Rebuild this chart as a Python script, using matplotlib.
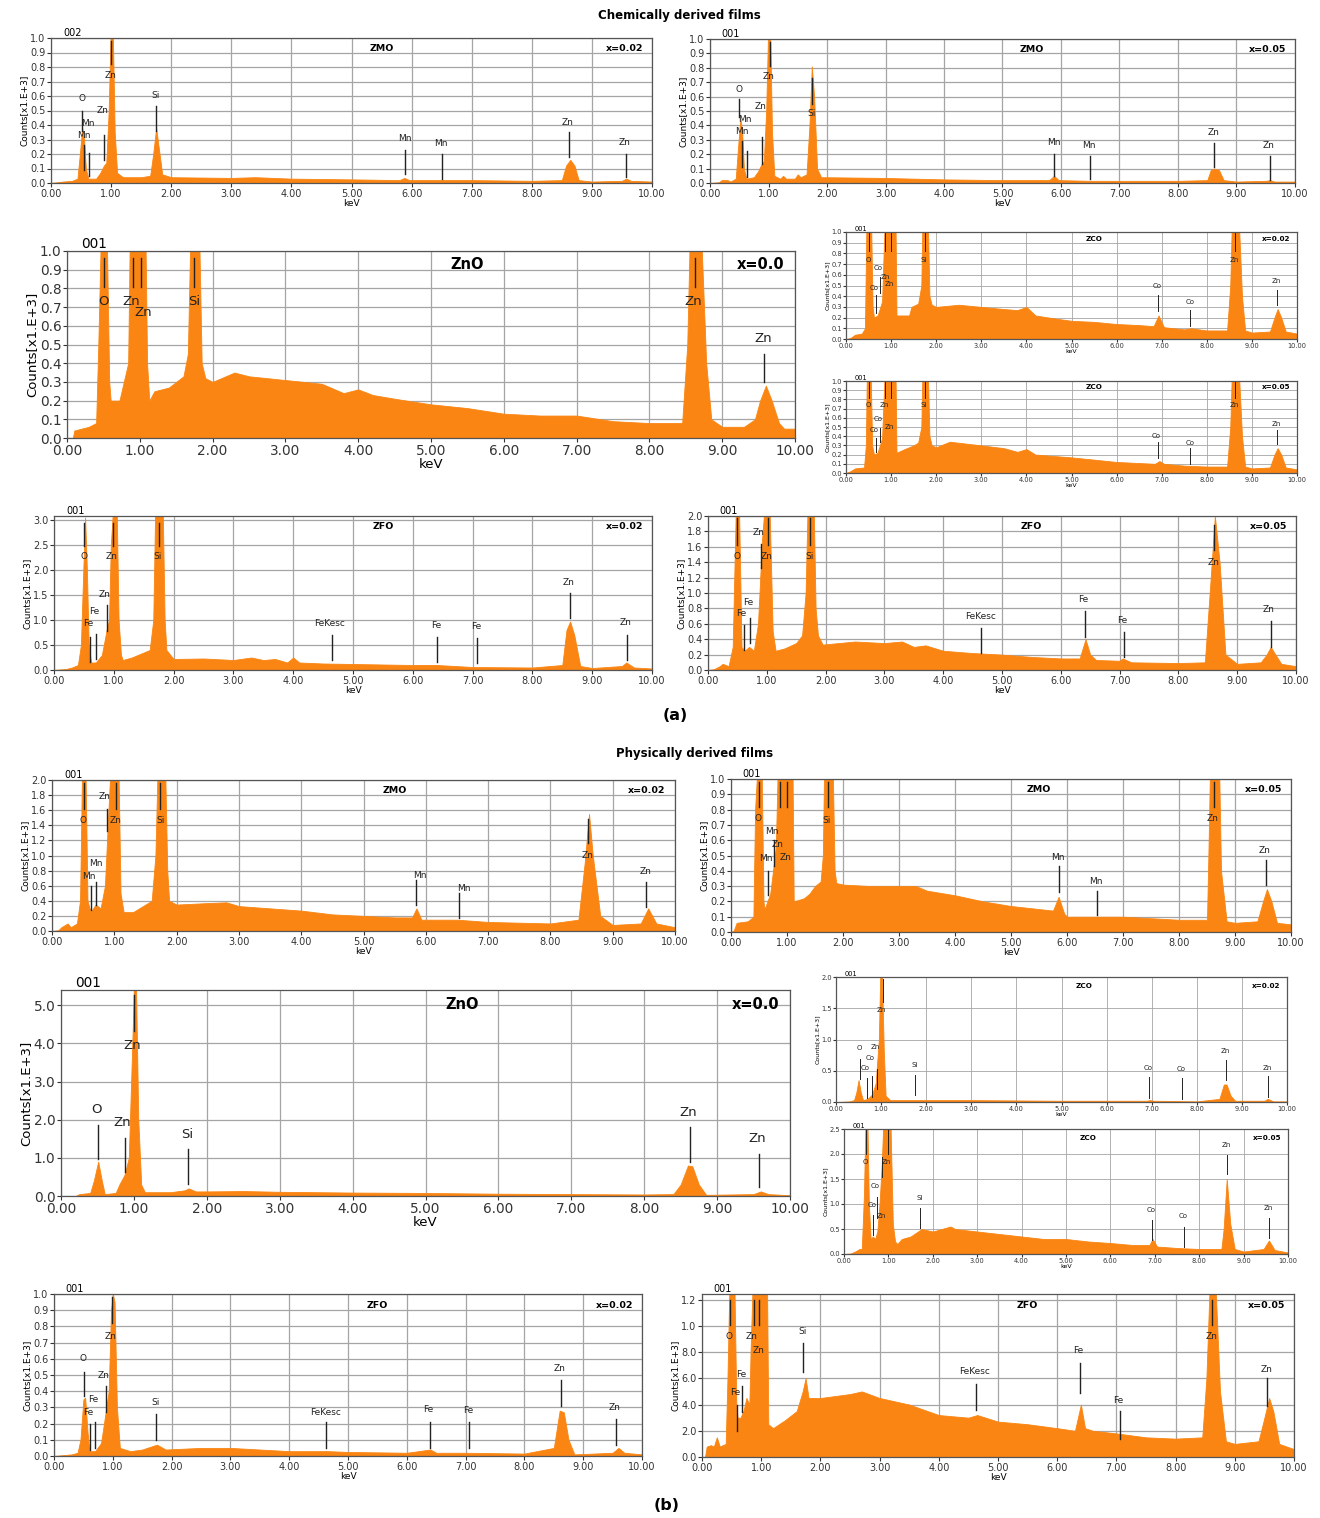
import matplotlib
matplotlib.use("Agg")
import matplotlib.pyplot as plt

plt.rcParams['font.family'] = ['Liberation Sans Narrow', 'DejaVu Sans']

ORANGE = '#fa8512'
W, H = 1320, 1518

# ---- spectra: (keV, counts x1e3) ----
a1_spec = [(0,0),(0.1,0.005),(0.2,0.01),(0.35,0.015),(0.44,0.03),(0.48,0.2),(0.52,0.38),(0.55,0.3),(0.58,0.1),(0.62,0.03),
           (0.75,0.03),(0.82,0.07),(0.88,0.12),(0.92,0.14),(0.96,0.5),(0.99,1.0),(1.03,1.0),(1.06,0.35),(1.1,0.07),(1.2,0.04),
           (1.5,0.04),(1.65,0.05),(1.7,0.2),(1.75,0.38),(1.8,0.22),(1.85,0.06),(2.0,0.04),(3.0,0.035),(3.4,0.04),(4.0,0.03),
           (5.0,0.025),(5.8,0.02),(5.88,0.035),(5.96,0.02),(7.0,0.02),(8.0,0.015),(8.5,0.02),(8.57,0.12),(8.64,0.16),(8.71,0.12),
           (8.78,0.02),(9.0,0.01),(9.5,0.015),(9.57,0.03),(9.65,0.015),(10,0.01)]
a2_spec = [(0,0),(0.15,0.005),(0.2,0.02),(0.3,0.02),(0.35,0.01),(0.44,0.03),(0.48,0.25),(0.52,0.45),(0.55,0.35),(0.58,0.1),
           (0.62,0.03),(0.75,0.04),(0.82,0.08),(0.88,0.13),(0.92,0.15),(0.96,0.5),(0.99,1.0),(1.03,1.0),(1.06,0.35),(1.1,0.05),
           (1.2,0.03),(1.25,0.05),(1.3,0.03),(1.45,0.03),(1.5,0.06),(1.55,0.04),(1.65,0.06),(1.7,0.4),(1.74,0.81),(1.78,0.6),
           (1.83,0.1),(1.9,0.04),(2.0,0.04),(3.0,0.035),(4.0,0.025),(5.0,0.02),(5.8,0.02),(5.88,0.05),(5.96,0.02),(6.5,0.015),
           (7.0,0.015),(8.0,0.015),(8.5,0.02),(8.56,0.09),(8.62,0.1),(8.7,0.09),(8.78,0.02),(9.0,0.01),(9.5,0.015),(9.57,0.02),
           (9.65,0.01),(10,0.01)]
a3_spec = [(0,0),(0.08,0.0),(0.1,0.04),(0.3,0.06),(0.4,0.08),(0.43,0.5),(0.46,1.0),(0.55,1.0),(0.58,0.3),(0.6,0.2),(0.72,0.2),
           (0.78,0.3),(0.84,0.4),(0.86,1.0),(1.08,1.0),(1.1,0.4),(1.13,0.2),(1.2,0.25),(1.4,0.27),(1.5,0.3),(1.6,0.33),(1.66,0.45),
           (1.69,1.0),(1.82,1.0),(1.85,0.4),(1.9,0.32),(2.0,0.3),(2.3,0.35),(2.5,0.33),(3.0,0.31),(3.5,0.29),(3.8,0.24),(4.0,0.26),
           (4.2,0.23),(4.5,0.21),(5.0,0.18),(5.5,0.16),(6.0,0.13),(6.5,0.12),(7.0,0.12),(7.5,0.09),(8.0,0.08),(8.45,0.08),
           (8.52,0.5),(8.55,1.0),(8.72,1.0),(8.78,0.4),(8.85,0.1),(9.0,0.06),(9.3,0.06),(9.45,0.1),(9.52,0.2),(9.6,0.28),
           (9.68,0.2),(9.78,0.08),(9.85,0.05),(10,0.05)]
a4_spec = [(0,0),(0.1,0.01),(0.2,0.04),(0.35,0.05),(0.42,0.1),(0.45,1.0),(0.56,1.0),(0.59,0.3),(0.62,0.2),(0.7,0.22),(0.8,0.35),
           (0.85,1.0),(1.1,1.0),(1.12,0.22),(1.4,0.22),(1.45,0.3),(1.6,0.33),(1.67,0.5),(1.69,1.0),(1.82,1.0),(1.85,0.4),(1.9,0.32),
           (2.0,0.3),(2.5,0.32),(3.0,0.3),(3.5,0.28),(3.8,0.27),(4.0,0.3),(4.2,0.22),(4.5,0.2),(5.0,0.17),(5.5,0.16),(6.0,0.14),
           (6.5,0.13),(6.82,0.12),(6.93,0.22),(7.05,0.11),(7.5,0.09),(7.65,0.1),(8.0,0.08),(8.45,0.08),(8.52,0.5),(8.55,1.0),
           (8.72,1.0),(8.78,0.4),(8.85,0.08),(9.0,0.06),(9.4,0.07),(9.5,0.2),(9.57,0.28),(9.65,0.2),(9.75,0.07),(10,0.05)]
a5_spec = [(0,0),(0.1,0.02),(0.2,0.05),(0.4,0.06),(0.44,0.3),(0.46,1.0),(0.55,1.0),(0.58,0.3),(0.62,0.2),(0.7,0.22),(0.8,0.38),
           (0.85,1.0),(1.1,1.0),(1.12,0.22),(1.3,0.26),(1.5,0.3),(1.6,0.33),(1.67,0.5),(1.69,1.0),(1.82,1.0),(1.85,0.4),(1.9,0.3),
           (2.0,0.28),(2.3,0.34),(3.0,0.3),(3.5,0.27),(3.8,0.23),(4.0,0.26),(4.2,0.2),(5.0,0.17),(6.0,0.12),(6.85,0.1),(6.95,0.13),
           (7.05,0.1),(7.5,0.08),(8.0,0.07),(8.45,0.07),(8.52,0.5),(8.55,1.0),(8.72,1.0),(8.78,0.4),(8.85,0.07),(9.0,0.05),
           (9.4,0.06),(9.5,0.2),(9.57,0.27),(9.65,0.2),(9.75,0.06),(10,0.04)]
a6_spec = [(0,0),(0.2,0.02),(0.3,0.05),(0.4,0.1),(0.45,0.5),(0.49,2.0),(0.52,3.05),(0.55,2.0),(0.58,0.5),(0.62,0.15),(0.7,0.15),
           (0.8,0.3),(0.88,0.8),(0.92,1.0),(0.95,2.5),(0.98,3.08),(1.05,3.08),(1.08,1.0),(1.12,0.3),(1.15,0.2),(1.3,0.25),(1.5,0.35),
           (1.6,0.4),(1.66,1.0),(1.69,3.08),(1.82,3.08),(1.85,1.0),(1.88,0.4),(2.0,0.22),(2.5,0.23),(3.0,0.2),(3.3,0.25),(3.5,0.2),
           (3.7,0.22),(3.9,0.15),(4.0,0.25),(4.1,0.15),(4.5,0.13),(5.0,0.12),(6.0,0.1),(6.4,0.1),(7.0,0.06),(8.0,0.05),(8.5,0.1),
           (8.57,0.8),(8.63,0.97),(8.7,0.7),(8.8,0.08),(9.0,0.04),(9.5,0.08),(9.57,0.15),(9.7,0.05),(10,0.03)]
a7_spec = [(0,0),(0.1,0.01),(0.2,0.05),(0.25,0.08),(0.35,0.05),(0.42,0.3),(0.47,2.0),(0.53,2.0),(0.57,0.3),(0.62,0.25),(0.7,0.3),
           (0.78,0.25),(0.85,0.6),(0.92,1.7),(0.95,2.0),(1.05,2.0),(1.1,0.5),(1.15,0.25),(1.3,0.28),(1.5,0.35),(1.6,0.45),(1.66,1.0),
           (1.69,2.0),(1.8,2.0),(1.83,0.8),(1.87,0.45),(1.95,0.33),(2.5,0.37),(3.0,0.35),(3.3,0.37),(3.5,0.3),(3.7,0.32),(4.0,0.25),
           (4.5,0.22),(5.0,0.2),(5.5,0.17),(6.0,0.15),(6.32,0.15),(6.42,0.4),(6.5,0.2),(6.6,0.13),(7.0,0.12),(7.05,0.15),(7.2,0.1),
           (8.0,0.09),(8.45,0.1),(8.55,1.2),(8.62,2.0),(8.7,1.4),(8.8,0.2),(9.0,0.08),(9.4,0.1),(9.5,0.2),(9.57,0.3),(9.65,0.2),
           (9.75,0.08),(10,0.05)]
b1_spec = [(0,0),(0.1,0.01),(0.15,0.05),(0.25,0.1),(0.3,0.05),(0.4,0.1),(0.45,0.4),(0.48,2.0),(0.54,2.0),(0.57,0.4),(0.62,0.25),
           (0.7,0.35),(0.78,0.3),(0.85,0.6),(0.9,1.5),(0.93,2.0),(1.07,2.0),(1.1,0.5),(1.15,0.25),(1.3,0.25),(1.5,0.35),(1.6,0.4),
           (1.66,1.0),(1.69,2.0),(1.82,2.0),(1.85,0.8),(1.88,0.4),(2.0,0.35),(2.5,0.37),(2.8,0.38),(3.0,0.33),(3.5,0.3),(4.0,0.27),
           (4.5,0.22),(5.0,0.2),(5.5,0.18),(5.78,0.18),(5.85,0.3),(5.93,0.15),(6.5,0.15),(7.0,0.12),(8.0,0.1),(8.45,0.15),
           (8.55,0.9),(8.62,1.55),(8.68,1.0),(8.8,0.2),(9.0,0.08),(9.45,0.1),(9.57,0.3),(9.7,0.1),(10,0.05)]
b2_spec = [(0,0),(0.05,0.01),(0.1,0.06),(0.3,0.07),(0.4,0.1),(0.43,0.8),(0.46,1.0),(0.55,1.0),(0.58,0.2),(0.6,0.15),(0.7,0.25),
           (0.8,0.55),(0.83,1.0),(1.1,1.0),(1.12,0.2),(1.3,0.22),(1.4,0.25),(1.5,0.3),(1.6,0.33),(1.64,0.5),(1.66,1.0),(1.82,1.0),
           (1.85,0.4),(1.88,0.32),(2.0,0.31),(2.5,0.3),(3.0,0.3),(3.3,0.3),(3.5,0.27),(4.0,0.24),(4.5,0.2),(5.0,0.17),(5.5,0.15),
           (5.75,0.14),(5.85,0.23),(5.95,0.12),(6.0,0.1),(6.5,0.1),(7.0,0.1),(7.5,0.09),(8.0,0.08),(8.5,0.08),(8.53,0.6),(8.55,1.0),
           (8.72,1.0),(8.75,0.4),(8.85,0.07),(9.0,0.06),(9.4,0.07),(9.5,0.2),(9.57,0.28),(9.65,0.2),(9.75,0.06),(10,0.05)]
b3_spec = [(0,0),(0.2,0.0),(0.25,0.05),(0.4,0.08),(0.45,0.4),(0.51,0.9),(0.56,0.4),(0.6,0.05),(0.75,0.08),(0.8,0.3),(0.87,0.55),
           (0.93,1.0),(0.97,3.5),(1.0,5.4),(1.03,5.4),(1.06,2.0),(1.1,0.3),(1.15,0.1),(1.5,0.1),(1.7,0.15),(1.75,0.2),(1.85,0.12),
           (2.0,0.12),(2.5,0.13),(3.0,0.11),(3.5,0.1),(4.0,0.09),(5.0,0.08),(6.0,0.06),(7.0,0.05),(8.0,0.04),(8.4,0.05),(8.5,0.3),
           (8.6,0.8),(8.66,0.78),(8.75,0.3),(8.85,0.03),(9.5,0.05),(9.6,0.12),(9.7,0.05),(10,0.02)]
b4_spec = [(0,0),(0.3,0.01),(0.4,0.03),(0.45,0.15),(0.5,0.35),(0.55,0.15),(0.6,0.03),(0.7,0.05),(0.8,0.12),(0.88,0.3),(0.95,1.0),
           (0.98,2.0),(1.02,2.0),(1.06,0.8),(1.1,0.1),(1.2,0.03),(2.0,0.03),(3.0,0.03),(5.0,0.02),(6.9,0.02),(6.95,0.03),(7.05,0.02),
           (8.0,0.01),(8.5,0.05),(8.6,0.28),(8.66,0.28),(8.75,0.1),(8.85,0.02),(9.5,0.02),(9.57,0.05),(9.7,0.01),(10,0.01)]
b5_spec = [(0,0),(0.15,0.01),(0.25,0.05),(0.35,0.1),(0.4,0.1),(0.45,1.2),(0.48,2.5),(0.53,2.5),(0.56,1.0),(0.6,0.3),(0.65,0.35),
           (0.7,0.3),(0.75,0.45),(0.8,1.0),(0.85,1.8),(0.88,2.5),(1.05,2.5),(1.1,0.6),(1.15,0.25),(1.2,0.2),(1.3,0.3),(1.5,0.35),
           (1.75,0.5),(2.0,0.45),(2.4,0.55),(2.5,0.5),(3.0,0.45),(3.5,0.4),(4.0,0.35),(4.5,0.3),(5.0,0.3),(5.5,0.25),(6.0,0.22),
           (6.5,0.18),(6.88,0.18),(6.95,0.3),(7.05,0.15),(7.5,0.12),(8.0,0.1),(8.5,0.1),(8.55,0.5),(8.62,1.5),(8.7,0.6),(8.8,0.1),
           (9.0,0.05),(9.45,0.1),(9.57,0.27),(9.7,0.08),(10,0.03)]
b6_spec = [(0,0),(0.3,0.01),(0.4,0.02),(0.45,0.1),(0.5,0.35),(0.53,0.36),(0.57,0.15),(0.6,0.03),(0.7,0.03),(0.8,0.08),(0.87,0.25),
           (0.93,0.4),(0.97,0.9),(1.0,1.0),(1.03,0.95),(1.07,0.3),(1.12,0.05),(1.3,0.03),(1.5,0.04),(1.75,0.07),(1.9,0.04),(2.5,0.05),
           (3.0,0.05),(3.5,0.04),(4.0,0.03),(4.65,0.03),(5.0,0.025),(6.0,0.02),(6.4,0.04),(6.5,0.02),(7.0,0.02),(8.0,0.015),
           (8.5,0.05),(8.6,0.28),(8.67,0.27),(8.75,0.1),(8.85,0.01),(9.5,0.02),(9.6,0.05),(9.7,0.02),(10,0.01)]
b7_spec = [(0,0),(0.05,0.0),(0.08,0.08),(0.15,0.09),(0.2,0.08),(0.25,0.15),(0.3,0.08),(0.4,0.1),(0.43,0.6),(0.46,1.243),
           (0.55,1.243),(0.58,0.4),(0.6,0.3),(0.65,0.3),(0.7,0.35),(0.75,0.45),(0.8,0.4),(0.82,0.8),(0.85,1.243),(1.1,1.243),
           (1.12,0.25),(1.2,0.22),(1.4,0.28),(1.6,0.35),(1.7,0.5),(1.75,0.6),(1.8,0.45),(2.0,0.45),(2.5,0.48),(2.7,0.5),(3.0,0.45),
           (3.5,0.4),(4.0,0.32),(4.5,0.3),(4.65,0.32),(5.0,0.27),(5.5,0.25),(6.0,0.22),(6.3,0.2),(6.4,0.4),(6.47,0.22),(6.6,0.2),
           (7.0,0.18),(7.5,0.15),(8.0,0.14),(8.45,0.15),(8.52,0.6),(8.57,1.243),(8.68,1.243),(8.75,0.5),(8.85,0.12),(9.0,0.1),
           (9.4,0.12),(9.5,0.3),(9.58,0.45),(9.65,0.35),(9.75,0.1),(10,0.06)]

# ---- element markers: (keV, line top, line bottom, label, label x, label y) ----
a1_marks = [(0.51,0.50,0.36,'O',0.51,0.58),(0.55,0.26,0.09,'Mn',0.55,0.33),(0.64,0.21,0.05,'Mn',0.62,0.41),
            (0.88,0.33,0.16,'Zn',0.86,0.50),(1.0,0.98,0.82,'Zn',0.99,0.74),(1.75,0.53,0.36,'Si',1.74,0.60),
            (5.89,0.23,0.06,'Mn',5.88,0.31),(6.5,0.20,0.03,'Mn',6.48,0.27),(8.62,0.35,0.18,'Zn',8.6,0.42),
            (9.56,0.20,0.04,'Zn',9.54,0.28)]
a2_marks = [(0.50,0.58,0.46,'O',0.49,0.65),(0.54,0.29,0.11,'Mn',0.54,0.36),(0.63,0.22,0.04,'Mn',0.59,0.44),
            (0.89,0.32,0.13,'Zn',0.86,0.53),(1.02,0.98,0.81,'Zn',1.0,0.74),(1.74,0.73,0.55,'Si',1.74,0.48),
            (5.88,0.20,0.05,'Mn',5.87,0.28),(6.5,0.19,0.03,'Mn',6.48,0.26),(8.62,0.28,0.11,'Zn',8.6,0.35),
            (9.57,0.19,0.02,'Zn',9.55,0.26)]
a3_marks = [(0.51,0.96,0.81,'O',0.50,0.73),(0.91,0.96,0.81,'Zn',0.88,0.73),(1.02,0.96,0.81,'Zn',1.04,0.67),
            (1.75,0.96,0.81,'Si',1.75,0.73),(8.62,0.96,0.81,'Zn',8.6,0.73),(9.58,0.45,0.30,'Zn',9.56,0.53)]
a4_marks = [(0.5,0.99,0.82,'O',0.5,0.74),(0.66,0.41,0.24,'Co',0.63,0.48),(0.76,0.58,0.43,'Co',0.72,0.66),
            (0.87,0.99,0.82,'Zn',0.87,0.58),(0.99,0.99,0.82,'Zn',0.96,0.51),(1.75,0.99,0.82,'Si',1.73,0.74),
            (6.91,0.41,0.26,'Co',6.9,0.5),(7.63,0.27,0.12,'Co',7.62,0.35),(8.63,0.99,0.82,'Zn',8.6,0.74),
            (9.56,0.46,0.32,'Zn',9.54,0.54)]
a5_marks = [(0.5,0.99,0.81,'O',0.5,0.74),(0.66,0.38,0.23,'Co',0.63,0.47),(0.76,0.49,0.34,'Co',0.71,0.59),
            (0.87,0.99,0.81,'Zn',0.85,0.74),(0.99,0.99,0.81,'Zn',0.96,0.5),(1.75,0.99,0.81,'Si',1.73,0.74),
            (6.91,0.34,0.16,'Co',6.88,0.40),(7.63,0.27,0.1,'Co',7.62,0.33),(8.63,0.99,0.81,'Zn',8.6,0.74),
            (9.56,0.47,0.31,'Zn',9.54,0.53)]
a6_marks = [(0.51,2.95,2.49,'O',0.5,2.27),(0.99,2.95,2.49,'Zn',0.97,2.27),(1.75,2.95,2.49,'Si',1.74,2.27),
            (0.88,1.31,0.78,'Zn',0.85,1.51),(0.61,0.67,0.17,'Fe',0.58,0.93),(0.70,0.73,0.23,'Fe',0.67,1.17),
            (4.65,0.70,0.20,'FeKesc',4.61,0.93),(6.41,0.67,0.17,'Fe',6.39,0.90),(7.08,0.65,0.15,'Fe',7.06,0.87),
            (8.63,1.55,1.05,'Zn',8.61,1.75),(9.58,0.71,0.20,'Zn',9.56,0.95)]
a7_marks = [(0.5,1.97,1.62,'O',0.49,1.47),(0.9,1.64,1.32,'Zn',0.86,1.78),(1.02,1.97,1.62,'Zn',1.0,1.47),
            (1.74,1.97,1.62,'Si',1.73,1.47),(0.62,0.58,0.26,'Fe',0.57,0.73),(0.71,0.67,0.35,'Fe',0.69,0.88),
            (4.65,0.55,0.22,'FeKesc',4.63,0.69),(6.41,0.76,0.43,'Fe',6.39,0.91),(7.07,0.50,0.17,'Fe',7.05,0.64),
            (8.61,1.88,1.56,'Zn',8.6,1.40),(9.57,0.64,0.30,'Zn',9.54,0.78)]
b1_marks = [(0.51,1.96,1.62,'O',0.5,1.47),(0.88,1.62,1.32,'Zn',0.85,1.78),(1.02,1.96,1.62,'Zn',1.02,1.47),
            (1.74,1.96,1.62,'Si',1.74,1.47),(0.63,0.59,0.28,'Mn',0.59,0.72),(0.71,0.65,0.34,'Mn',0.7,0.90),
            (5.84,0.68,0.34,'Mn',5.91,0.74),(6.54,0.50,0.17,'Mn',6.61,0.56),(8.6,1.49,1.16,'Zn',8.59,1.0),
            (9.54,0.65,0.32,'Zn',9.52,0.79)]
b2_marks = [(0.5,0.98,0.82,'O',0.49,0.74),(0.87,0.98,0.82,'',0,0),(1.0,0.98,0.82,'',0,0),
            (1.73,0.98,0.82,'Si',1.71,0.73),(0.66,0.40,0.24,'Mn',0.62,0.48),(0.77,0.60,0.43,'Mn',0.73,0.66),
            (0.84,0,0,'Zn',0.84,0.57),(0.97,0,0,'Zn',0.98,0.49),(5.85,0.43,0.26,'Mn',5.83,0.49),
            (6.54,0.27,0.11,'Mn',6.52,0.33),(8.62,0.98,0.82,'Zn',8.6,0.74),(9.56,0.47,0.31,'Zn',9.52,0.53)]
b3_marks = [(0.51,1.86,0.98,'O',0.49,2.27),(0.88,1.52,0.63,'Zn',0.84,1.92),(1.0,5.26,4.33,'Zn',0.97,3.94),
            (1.74,1.22,0.32,'Si',1.73,1.6),(8.63,1.8,0.89,'Zn',8.61,2.2),(9.57,1.1,0.24,'Zn',9.55,1.5)]
b4_marks = [(0.54,0.69,0.37,'O',0.52,0.86),(0.68,0.38,0.06,'Co',0.65,0.54),(0.79,0.41,0.08,'Co',0.76,0.71),
            (0.9,0.53,0.21,'Zn',0.88,0.88),(1.04,1.97,1.6,'Zn',1.01,1.48),(1.76,0.43,0.11,'Si',1.75,0.59),
            (6.94,0.4,0.06,'Co',6.92,0.54),(7.67,0.38,0.05,'Co',7.65,0.53),(8.64,0.67,0.35,'Zn',8.63,0.81),
            (9.58,0.41,0.08,'Zn',9.56,0.55)]
b5_marks = [(0.49,2.48,2.01,'O',0.49,1.85),(0.99,2.48,2.01,'Zn',0.96,1.85),(0.86,1.95,1.55,'',0,0),
            (0.65,0.78,0.39,'Co',0.63,0.98),(0.75,1.15,0.72,'Co',0.71,1.35),(0.84,0,0,'Zn',0.84,0.77),
            (1.72,0.93,0.52,'Si',1.71,1.12),(6.93,0.68,0.29,'Co',6.91,0.87),(7.66,0.55,0.15,'Co',7.64,0.75),
            (8.62,1.99,1.6,'Zn',8.61,2.18),(9.57,0.73,0.33,'Zn',9.55,0.92)]
b6_marks = [(0.51,0.52,0.37,'O',0.49,0.6),(0.61,0.2,0.04,'Fe',0.58,0.27),(0.7,0.21,0.05,'Fe',0.67,0.35),
            (0.88,0.43,0.27,'Zn',0.85,0.5),(0.99,0.98,0.82,'Zn',0.97,0.74),(1.74,0.26,0.1,'Si',1.73,0.33),
            (4.63,0.21,0.05,'FeKesc',4.62,0.27),(6.39,0.21,0.05,'Fe',6.37,0.29),(7.06,0.21,0.05,'Fe',7.04,0.28),
            (8.62,0.47,0.31,'Zn',8.6,0.54),(9.56,0.23,0.07,'Zn',9.54,0.30)]
b7_marks = [(0.48,1.2,1.01,'O',0.46,0.92),(0.87,1.2,1.01,'Zn',0.84,0.92),(0.97,1.2,1.01,'Zn',0.95,0.81),
            (1.71,0.87,0.65,'Si',1.7,0.96),(0.59,0.4,0.2,'Fe',0.57,0.49),(0.67,0.54,0.34,'Fe',0.66,0.63),
            (4.63,0.56,0.36,'FeKesc',4.61,0.65),(6.38,0.72,0.49,'Fe',6.36,0.81),(7.06,0.35,0.14,'Fe',7.03,0.43),
            (8.62,1.2,1.01,'Zn',8.6,0.92),(9.55,0.6,0.39,'Zn',9.53,0.67)]

# y axes
yt_1 = [0.0,0.1,0.2,0.3,0.4,0.5,0.6,0.7,0.8,0.9,1.0]
yt_2 = [0.0,0.2,0.4,0.6,0.8,1.0,1.2,1.4,1.6,1.8,2.0]
yt_3 = [0.0,0.5,1.0,1.5,2.0,2.5,3.0]
yt_5 = [0.0,1.0,2.0,3.0,4.0,5.0]
yt_4 = [0.0,0.5,1.0,1.5,2.0]
yt_25 = [0.0,0.5,1.0,1.5,2.0,2.5]
yt_12 = [0.0,0.2,0.4,0.6,0.8,1.0,1.2]
yl_12 = ['0.0','2.0','4.0','6.0','8.0','1.0','1.2']   # as printed on the original
x_ticks = [0,1,2,3,4,5,6,7,8,9,10]

# font sizes: tick, element label, title, axis label
SIZES = {'mid': (7, 6.5, 6.8, 6.5), 'big': (9.8, 9.5, 10.5, 9.5), 'small': (4.8, 5, 5.2, 4.5)}

fig = plt.figure(figsize=(W/100, H/100), dpi=100)


def panel(box, spec, ytop, yticks, marks, name, xval, code, kind, ylabels=None):
    L, T, R, B = box
    fs, lfs, tfs, afs = SIZES[kind]
    ax = fig.add_axes([L/W, 1-B/H, (R-L)/W, (B-T)/H])
    e = [p[0] for p in spec]
    c = [p[1] for p in spec]
    ax.fill_between(e, c, 0, color=ORANGE, lw=0.6, edgecolor=ORANGE, zorder=2)
    for en, top, bot, lab, lx, ly in marks:
        if top != bot:
            ax.plot([en, en], [bot, top], color='#222222', lw=1.0 if kind != 'small' else 0.7, zorder=3)
        if lab:
            ax.text(lx, ly, lab, ha='center', va='center', fontsize=lfs, color='#222222', zorder=4)
    ax.set_xlim(0, 10)
    ax.set_ylim(0, ytop)
    ax.set_xticks(x_ticks)
    ax.set_xticklabels(['%.2f' % v for v in x_ticks], fontsize=fs)
    ax.set_yticks(yticks)
    if ylabels is None:
        ylabels = ['%.1f' % v for v in yticks]
    ax.set_yticklabels(ylabels, fontsize=fs)
    ax.tick_params(axis='both', length=3 if kind != 'small' else 2, width=0.8, pad=1, colors='#333333')
    ax.grid(True, color='#a5a5a5', lw=0.9 if kind != 'small' else 0.6)
    ax.set_axisbelow(True)
    for s in ax.spines.values():
        s.set_color('#555555')
        s.set_linewidth(0.9)
    ax.set_xlabel('keV', fontsize=afs, labelpad=0)
    ax.set_ylabel('Counts[x1.E+3]', fontsize=afs, labelpad=1)
    ax.text(0.02, 1.0, code, transform=ax.transAxes, ha='left', va='bottom', fontsize=fs)
    ax.text(0.55, 0.93, name, transform=ax.transAxes, ha='center', va='center', fontsize=tfs, weight='bold',
            family='DejaVu Sans')
    ax.text(0.985, 0.93, xval, transform=ax.transAxes, ha='right', va='center', fontsize=tfs, weight='bold',
            family='DejaVu Sans')
    return ax


# (a) chemically derived films
panel((51, 38, 652, 183), a1_spec, 1.0, yt_1, a1_marks, 'ZMO', 'x=0.02', '002', 'mid')
panel((710, 39, 1295, 183), a2_spec, 1.0, yt_1, a2_marks, 'ZMO', 'x=0.05', '001', 'mid')
panel((67, 251, 795, 438), a3_spec, 1.0, yt_1, a3_marks, 'ZnO', 'x=0.0', '001', 'big')
panel((846, 232, 1297, 339), a4_spec, 1.0, yt_1, a4_marks, 'ZCO', 'x=0.02', '001', 'small')
panel((846, 381, 1297, 473), a5_spec, 1.0, yt_1, a5_marks, 'ZCO', 'x=0.05', '001', 'small')
panel((54, 516, 652, 670), a6_spec, 3.08, yt_3, a6_marks, 'ZFO', 'x=0.02', '001', 'mid')
panel((708, 516, 1296, 670), a7_spec, 2.0, yt_2, a7_marks, 'ZFO', 'x=0.05', '001', 'mid')

# (b) physically derived films
panel((52, 780, 675, 931), b1_spec, 2.0, yt_2, b1_marks, 'ZMO', 'x=0.02', '001', 'mid')
panel((731, 779, 1291, 932), b2_spec, 1.0, yt_1, b2_marks, 'ZMO', 'x=0.05', '001', 'mid')
panel((61, 990, 790, 1196), b3_spec, 5.4, yt_5, b3_marks, 'ZnO', 'x=0.0', '001', 'big')
panel((836, 977, 1287, 1102), b4_spec, 2.0, yt_4, b4_marks, 'ZCO', 'x=0.02', '001', 'small')
panel((844, 1129, 1288, 1254), b5_spec, 2.5, yt_25, b5_marks, 'ZCO', 'x=0.05', '001', 'small')
panel((54, 1294, 642, 1456), b6_spec, 1.0, yt_1, b6_marks, 'ZFO', 'x=0.02', '001', 'mid')
panel((702, 1294, 1294, 1457), b7_spec, 1.243, yt_12, b7_marks, 'ZFO', 'x=0.05', '001', 'mid', ylabels=yl_12)

fig.text(679/W, 1-16/H, 'Chemically derived films', ha='center', va='center', fontsize=8.5, weight='bold',
         family='DejaVu Sans')
fig.text(695/W, 1-754/H, 'Physically derived films', ha='center', va='center', fontsize=8.5, weight='bold',
         family='DejaVu Sans')
fig.text(675/W, 1-715/H, '(a)', ha='center', va='center', fontsize=11.5, weight='bold', family='DejaVu Sans')
fig.text(667/W, 1-1505/H, '(b)', ha='center', va='center', fontsize=11.5, weight='bold', family='DejaVu Sans')

fig.savefig('out.png', dpi=100)
